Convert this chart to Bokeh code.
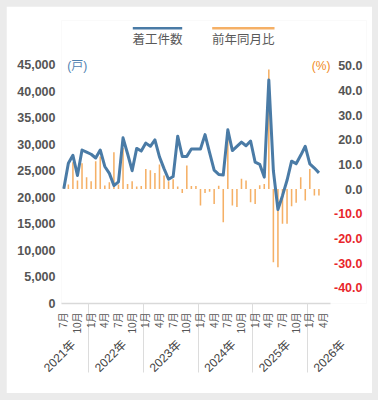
import math
import pandas as pd
from bokeh.plotting import figure
from bokeh.models import ColumnDataSource, Range1d, LinearAxis, FixedTicker, NumeralTickFormatter
from bokeh.layouts import column
from bokeh.embed import file_html
from bokeh.resources import INLINE
from bokeh.core.properties import value

# ---------------- data ----------------
axis_months = [str(m) for m in pd.period_range("2021-07", "2026-05", freq="M")]
data_months = axis_months[:57]          # 2021-07 .. 2026-03

starts = [21600, 26400, 27900, 24100, 28900, 28500, 28100, 27400, 28900, 25800,
          24500, 22200, 22900, 31200, 28200, 25000, 29200, 28700, 30200, 29600,
          30800, 27600, 25400, 23400, 23900, 31500, 27700, 27700, 29100, 29100,
          29100, 31800, 28400, 25100, 24300, 24200, 32700, 28800, 29600, 30400,
          29700, 30600, 26600, 26200, 23800, 42100, 25000, 17700, 20300, 23200,
          26800, 26300, 27900, 29600, 26300, 25500, 24600]

yoy = [1.5, 1.9, 10.9, 3.5, 10.5, 4.8, 3.2, 11.3, 13.2, 1.5,
       2.8, 15.0, 1.9, 16.7, 2.1, 3.2, 1.1, 1.3, 8.2, 7.6,
       6.5, 10.0, 5.5, 3.2, 4.0, 1.1, -1.6, 9.6, 1.3, 1.3,
       -6.7, -1.6, -1.1, -6.0, 1.4, -13.4, 23.8, -6.7, -7.3, 4.2,
       3.5, -5.3, -6.0, 1.6, 2.1, 48.5, -29.7, -31.7, -14.1, -14.1,
       -7.0, -5.5, 4.8, -4.6, 8.2, -2.6, -2.6]

left_ticks = [0, 5000, 10000, 15000, 20000, 25000, 30000, 35000, 40000, 45000]
right_ticks = [50, 40, 30, 20, 10, 0, -10, -20, -30, -40]
legend_labels = ["着工件数", "前年同月比"]
unit_left, unit_right = "(戸)", "(%)"

# ---------------- style / layout ----------------
FONT = "'Liberation Sans', 'Noto Sans CJK JP', sans-serif"
BLUE = "#4a7ba6"
ORANGE = "#f5b066"
ORANGE_TXT = "#f08a24"
GRAY = "#555555"
RED = "#e8262b"

W, H = 366, 387
FL, FR, FT, FB = 55, 360, 14, 297      # frame edges (card px)
PXM = 4.556                            # px per month
X0 = 57.3                              # card x of first month
x_start = -(X0 - FL) / PXM
x_end = x_start + (FR - FL) / PXM
LPX = 239 / 45000                      # px per 戸
y_end = (FB - FT) / LPX
ZERO_PCT = 182.6                       # card y of 0 %
PPX = 2.465                            # px per %
pct_start = -(FB - ZERO_PCT) / PPX
pct_end = (ZERO_PCT - FT) / PPX
SEP_LEN = 69


def dx(px):
    return x_start + (px - FL) / PXM


def dy(py):
    return (FB - py) / LPX


p = figure(width=W, height=H, output_backend="svg", toolbar_location=None,
           x_range=Range1d(x_start, x_end), y_range=Range1d(0, y_end),
           min_border_left=FL, min_border_right=W - FR,
           min_border_top=FT, min_border_bottom=H - FB,
           background_fill_color="white", border_fill_color="white",
           outline_line_color=None)
p.extra_y_ranges = {"pct": Range1d(pct_start, pct_end)}
p.xgrid.visible = False
p.ygrid.visible = False

# left axis
la = p.yaxis[0]
la.ticker = FixedTicker(ticks=left_ticks)
la.formatter = NumeralTickFormatter(format="0,0")
la.axis_line_color = None
la.major_tick_line_color = None
la.minor_tick_line_color = None
la.major_tick_out = 0
la.major_tick_in = 0
la.major_label_standoff = 6
la.major_label_text_font = FONT
la.major_label_text_font_size = "12.5px"
la.major_label_text_font_style = "bold"
la.major_label_text_color = GRAY

# month axis (with year separators as minor ticks)
q_pos = [i for i, m in enumerate(axis_months) if int(m[5:]) in (1, 4, 7, 10)]
q_lab = {i: f"{int(axis_months[i][5:])}月" for i in q_pos}
sep_pos = [i - 0.5 for i, m in enumerate(axis_months) if m.endswith("-01")]
xa = p.xaxis[0]
xa.ticker = FixedTicker(ticks=q_pos, minor_ticks=sep_pos)
xa.major_label_overrides = q_lab
xa.major_label_orientation = math.pi / 2
xa.bounds = (-0.5, len(axis_months) - 0.5)
xa.axis_line_color = "#d9d9d9"
xa.axis_line_width = 1.5
xa.major_tick_line_color = None
xa.major_tick_out = 0
xa.major_tick_in = 0
xa.minor_tick_line_color = "#dcdcdc"
xa.minor_tick_out = SEP_LEN
xa.minor_tick_in = 0
xa.major_label_standoff = 9 - SEP_LEN
xa.major_label_text_font = FONT
xa.major_label_text_font_size = "10px"
xa.major_label_text_color = GRAY

# year axis
years = sorted(set(m[:4] for m in axis_months))
year_pos = [round(max((int(y) - 2021) * 12 - 6 + 7.3, 2.1), 2) for y in years]
ya2 = LinearAxis(ticker=FixedTicker(ticks=year_pos),
                 major_label_overrides={pos: f"{y}年" for pos, y in zip(year_pos, years)},
                 major_label_orientation=math.pi / 4,
                 axis_line_color=None, major_tick_line_color=None,
                 minor_tick_line_color=None, major_tick_out=0, major_tick_in=0,
                 major_label_standoff=6, major_label_text_font=FONT,
                 major_label_text_font_size="12px", major_label_text_color="#444444")
p.add_layout(ya2, "below")

# data
src = ColumnDataSource(dict(k=list(range(len(data_months))), month=data_months,
                            starts=starts, yoy=yoy))
p.vbar(x="k", top="yoy", bottom=0, width=0.34, source=src, y_range_name="pct",
       fill_color=ORANGE, line_color=None)
p.line(x="k", y="starts", source=src, line_color=BLUE, line_width=3, line_join="round")

# right-hand scale labels
rsrc = ColumnDataSource(dict(
    x=[dx(356)] * len(right_ticks), y=right_ticks,
    text=[f"{v:.1f}" for v in right_ticks],
    color=[RED if v < 0 else GRAY for v in right_ticks]))
p.text(x="x", y="y", text="text", text_color="color", source=rsrc, y_range_name="pct",
       text_align="right", text_baseline="middle", text_font=value(FONT),
       text_font_size="12.5px", text_font_style="bold")

# legend
p.segment(x0=[dx(126.3), dx(205.7)], x1=[dx(175.7), dx(268)],
          y0=[dy(21.7)] * 2, y1=[dy(21.7)] * 2,
          line_color=[BLUE, ORANGE], line_width=2.5)
p.text(x=[dx(151), dx(236.8)], y=[dy(33.3)] * 2, text=legend_labels,
       text_align="center", text_baseline="middle", text_font=value(FONT),
       text_font_size="12.5px", text_color="#595959")

# unit labels
p.text(x=[dx(60.7)], y=[dy(59.7)], text=[unit_left], text_align="left",
       text_baseline="middle", text_font=value(FONT), text_font_size="12px",
       text_color="#4f81b0")
p.text(x=[dx(324)], y=[dy(59.7)], text=[unit_right], text_align="right",
       text_baseline="middle", text_font=value(FONT), text_font_size="12px",
       text_color=ORANGE_TXT)

layout = column(p, styles={"background-color": "#ebebeb", "padding": "6px 6px 7px 6px"})
open("out.html", "w").write(file_html(layout, INLINE))
